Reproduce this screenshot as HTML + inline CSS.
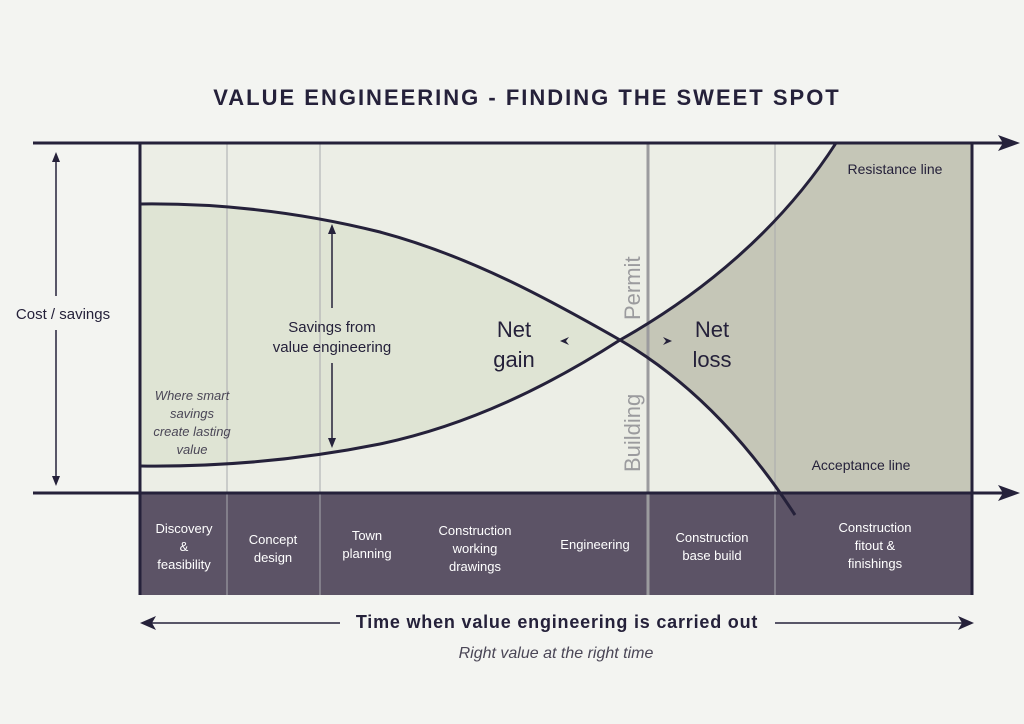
<!DOCTYPE html>
<html><head><style>
body{margin:0;background:#f3f4f1;}
svg{display:block;font-family:"Liberation Sans",sans-serif;}
</style></head><body>
<svg width="1024" height="724" viewBox="0 0 1024 724">
<rect width="1024" height="724" fill="#f3f4f1"/>
<text x="527" y="105" text-anchor="middle" font-size="22" font-weight="bold" fill="#25213a" letter-spacing="2">VALUE ENGINEERING - FINDING THE SWEET SPOT</text>
<rect x="140" y="143" width="832" height="350" fill="#eceee6"/>
<path d="M140,204 C220,203 300,212 380,232 C470,256 550,300 620,340 C550,385 470,425 380,444 C300,460 220,467 140,466 Z" fill="#dfe4d4"/>
<path d="M620,340 C700,295 780,230 836,143 L972,143 L972,493 L779,493 C740,430 680,375 620,340 Z" fill="#c5c6b7"/>
<rect x="140" y="493" width="832" height="102" fill="#5c5366"/>
<g stroke="#a9a9ae" stroke-width="1">
<line x1="227" y1="143" x2="227" y2="595"/><line x1="320" y1="143" x2="320" y2="595"/><line x1="775" y1="143" x2="775" y2="595"/>
</g>
<line x1="648" y1="143" x2="648" y2="595" stroke="#9b9b9e" stroke-width="3"/>
<g fill="none" stroke="#25213a" stroke-width="3">
<path d="M140,204 C220,203 300,212 380,232 C470,256 550,300 620,340 C680,375 740,430 795,515"/>
<path d="M140,466 C220,467 300,460 380,444 C470,425 550,385 620,340 C700,295 780,230 836,143"/>
</g>
<g stroke="#25213a" stroke-width="3">
<line x1="33" y1="143" x2="1008" y2="143"/><line x1="33" y1="493" x2="1008" y2="493"/>
<line x1="140" y1="143" x2="140" y2="595"/><line x1="972" y1="143" x2="972" y2="595"/>
</g>
<g fill="#25213a">
<path d="M1020,143 L998,135 L1003,143 L998,151Z"/><path d="M1020,493 L998,485 L1003,493 L998,501Z"/>
</g>
<g stroke="#25213a" stroke-width="1.5">
<line x1="56" y1="155" x2="56" y2="296"/><line x1="56" y1="330" x2="56" y2="482"/>
<line x1="332" y1="228" x2="332" y2="308"/><line x1="332" y1="363" x2="332" y2="444"/>
<line x1="148" y1="623" x2="340" y2="623"/><line x1="775" y1="623" x2="965" y2="623"/>
</g>
<g fill="#25213a">
<path d="M56,152 L52,162 L60,162Z"/><path d="M56,486 L52,476 L60,476Z"/>
<path d="M332,224 L328,234 L336,234Z"/><path d="M332,448 L328,438 L336,438Z"/>
<path d="M140,623 L156,616 L152,623 L156,630Z"/><path d="M974,623 L958,616 L962,623 L958,630Z"/>
<path d="M560,341 L569,337 L566,341 L569,345Z"/><path d="M672,341 L663,337 L666,341 L663,345Z"/>
</g>
<g fill="#25213a">
<text x="63" y="319" text-anchor="middle" font-size="15">Cost / savings</text>
<text x="332" y="332" text-anchor="middle" font-size="15">Savings from</text>
<text x="332" y="352" text-anchor="middle" font-size="15">value engineering</text>
<text x="514" y="337" text-anchor="middle" font-size="22">Net</text>
<text x="514" y="367" text-anchor="middle" font-size="22">gain</text>
<text x="712" y="337" text-anchor="middle" font-size="22">Net</text>
<text x="712" y="367" text-anchor="middle" font-size="22">loss</text>
<text x="895" y="174" text-anchor="middle" font-size="14">Resistance line</text>
<text x="861" y="470" text-anchor="middle" font-size="14">Acceptance line</text>
<text x="557" y="628" text-anchor="middle" font-size="18" font-weight="bold" letter-spacing="0.8">Time when value engineering is carried out</text>
</g>
<g fill="#4a4656" font-style="italic" font-size="13" text-anchor="middle">
<text x="192" y="400">Where smart</text><text x="192" y="418">savings</text><text x="192" y="436">create lasting</text><text x="192" y="454">value</text>
<text x="556" y="658" font-size="16">Right value at the right time</text>
</g>
<g fill="#9b9b9e" font-size="22">
<text transform="translate(640,320) rotate(-90)">Permit</text>
<text transform="translate(640,472) rotate(-90)">Building</text>
</g>
<g fill="#ffffff" font-size="13" text-anchor="middle">
<text x="184" y="533">Discovery</text><text x="184" y="551">&amp;</text><text x="184" y="569">feasibility</text>
<text x="273" y="544">Concept</text><text x="273" y="562">design</text>
<text x="367" y="540">Town</text><text x="367" y="558">planning</text>
<text x="475" y="535">Construction</text><text x="475" y="553">working</text><text x="475" y="571">drawings</text>
<text x="595" y="549">Engineering</text>
<text x="712" y="542">Construction</text><text x="712" y="560">base build</text>
<text x="875" y="532">Construction</text><text x="875" y="550">fitout &amp;</text><text x="875" y="568">finishings</text>
</g>
</svg>
</body></html>
